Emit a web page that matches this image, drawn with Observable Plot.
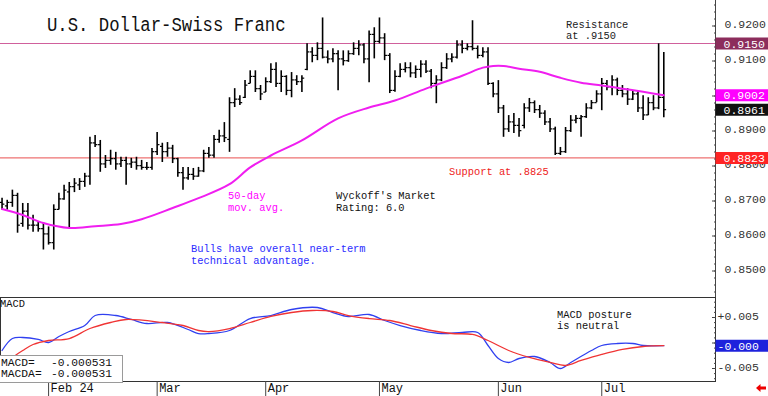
<!DOCTYPE html>
<html><head><meta charset="utf-8">
<script src="https://cdn.jsdelivr.net/npm/d3@7"></script>
<script src="https://cdn.jsdelivr.net/npm/@observablehq/plot@0.6"></script>
<style>
html,body{margin:0;padding:0;background:#fff;}
#wrap{position:relative;width:768px;height:396px;overflow:hidden;background:#fff;font-family:"Liberation Mono",monospace;}
#wrap svg.plot{position:absolute;left:0;}
.note{position:absolute;font-size:10.4px;line-height:9.5px;height:9.5px;white-space:pre;}
#title{position:absolute;left:47px;top:17px;font-size:17.3px;line-height:20px;white-space:pre;color:#111;transform:scaleY(1.2);transform-origin:0 15px;}
#mbox{position:absolute;left:-1px;top:355px;width:122px;height:26px;border:1px solid #9a9a9a;background:#fff;font-size:11.3px;color:#111;}
#mbox div{position:absolute;white-space:pre;line-height:11px;}
</style></head><body><div id="wrap"></div>
<script>
// ---- data: daily bars (index 0 = mid-January) ----
const open = [.8696,.8686,.8696,.8716,.8636,.8671,.8631,.8631,.8621,.8606,
.8581,.8676,.8706,.8726,.8741,.8746,.8756,.8771,.8866,.8861,
.8806,.8816,.8821,.8806,.8816,.8806,.8811,.8801,.8796,.8796,
.8841,.8856,.8841,.8851,.8821,.8781,.8766,.8776,.8771,.8786,
.8836,.8831,.8876,.8886,.8876,.8981,.8991,.8996,.9036,.9056,
.9021,.9011,.9041,.9076,.9036,.9056,.9016,.9046,.9041,.9076,
.9126,.9116,.9136,.9111,.9106,.9121,.9106,.9101,.9121,.9136,
.9146,.9106,.9176,.9156,.9166,.9116,.9016,.9056,.9076,.9081,
.9066,.9076,.9091,.9071,.9036,.9046,.9081,.9106,.9111,.9146,
.9136,.9141,.9136,.9116,.9126,.9036,.9006,.8966,.8906,.8926,
.8916,.8916,.8966,.8981,.8961,.8951,.8926,.8906,.8836,.8841,
.8901,.8931,.8936,.8941,.8966,.8981,.9006,.9036,.9026,.9046,
.9016,.9006,.8991,.9006,.8966,.8946,.8981,.8966,.8996];
const high = [.8708,.8702,.8731,.8722,.8693,.8693,.8659,.8640,.8637,.8626,
.8689,.8722,.8745,.8753,.8764,.8764,.8779,.8882,.8887,.8873,
.8830,.8845,.8839,.8825,.8825,.8822,.8825,.8816,.8810,.8850,
.8896,.8865,.8867,.8859,.8822,.8796,.8796,.8793,.8796,.8845,
.8853,.8887,.8902,.8924,.8995,.9021,.9001,.9044,.9072,.9072,
.9030,.9052,.9092,.9095,.9072,.9058,.9067,.9058,.9058,.9149,
.9138,.9152,.9223,.9129,.9135,.9129,.9129,.9129,.9152,.9158,
.9149,.9186,.9195,.9223,.9178,.9121,.9072,.9092,.9095,.9095,
.9086,.9101,.9101,.9076,.9058,.9095,.9121,.9121,.9158,.9158,
.9149,.9215,.9143,.9138,.9138,.9038,.9044,.8973,.8944,.8950,
.8936,.8978,.8993,.8986,.8973,.8958,.8936,.8911,.8853,.8910,
.8944,.8944,.8944,.8978,.8987,.9015,.9050,.9044,.9058,.9051,
.9030,.9021,.9015,.9015,.9001,.8995,.9001,.9149,.9124];
const low = [.8674,.8674,.8682,.8608,.8625,.8617,.8611,.8611,.8560,.8574,
.8560,.8674,.8702,.8623,.8724,.8730,.8739,.8745,.8853,.8782,
.8793,.8802,.8788,.8796,.8745,.8793,.8788,.8788,.8788,.8788,
.8830,.8810,.8825,.8807,.8768,.8731,.8759,.8759,.8768,.8781,
.8822,.8822,.8865,.8867,.8839,.8967,.8973,.8993,.9035,.9010,
.8987,.9010,.9036,.9024,.9010,.9001,.8995,.9030,.9010,.9072,
.9095,.9101,.9106,.9092,.9095,.9015,.9086,.9096,.9116,.9115,
.9092,.9038,.9106,.9149,.9101,.9007,.9011,.9052,.9066,.9052,
.9050,.9052,.9064,.9021,.8978,.9041,.9076,.9095,.9106,.9121,
.9129,.9129,.9106,.9109,.9030,.8995,.8950,.8882,.8896,.8893,
.8882,.8906,.8953,.8950,.8936,.8916,.8896,.8830,.8830,.8836,
.8896,.8921,.8882,.8936,.8961,.8981,.8958,.9015,.9001,.9001,
.8995,.8973,.8987,.8953,.8930,.8944,.8958,.8961,.8938];
const close = [.8691,.8696,.8716,.8631,.8671,.8631,.8631,.8621,.8606,.8581,
.8676,.8706,.8731,.8741,.8751,.8756,.8771,.8866,.8861,.8806,
.8816,.8821,.8806,.8816,.8806,.8811,.8801,.8796,.8796,.8841,
.8861,.8841,.8851,.8821,.8781,.8766,.8776,.8771,.8786,.8836,
.8831,.8876,.8886,.8881,.8981,.8991,.8981,.9031,.9056,.9021,
.9006,.9041,.9076,.9036,.9056,.9016,.9046,.9041,.9051,.9126,
.9116,.9136,.9111,.9106,.9121,.9106,.9101,.9121,.9136,.9146,
.9106,.9176,.9156,.9166,.9116,.9016,.9056,.9076,.9081,.9066,
.9076,.9091,.9071,.9036,.9046,.9081,.9106,.9111,.9146,.9136,
.9141,.9136,.9116,.9126,.9036,.9006,.8966,.8906,.8926,.8916,
.8901,.8966,.8981,.8961,.8951,.8926,.8906,.8836,.8841,.8901,
.8931,.8936,.8941,.8966,.8981,.9006,.9036,.9026,.9046,.9016,
.9006,.8991,.9006,.8966,.8946,.8981,.8966,.8996,.8961];

// 50-day moving average, read at sample bars
const maIdx = [0,4,8,13,18,23,27,33,38,44,48,52,58,65,71,76,82,89,93,95,97,100,104,108,112,116,120,124,128];
const maVal = [.8677,.8660,.8637,.8623,.8628,.8634,.8648,.8680,.8708,.8748,.8796,.8830,.8873,.8936,.8967,.8987,.9021,.9058,.9081,.9086,.9086,.9078,.9069,.9052,.9038,.9030,.9021,.9012,.9002];

// MACD (blue) and MACDA signal (red), read at sample bars
const macdIdx = [0,2,4,7,9,11,13,16,18,22,25,28,32,36,38,40,44,48,52,56,61,64,67,71,74,77,81,85,89,92,94,96,98,100,103,106,108,110,114,116,119,122,124,128];
const macdVal = [-.00147,.00088,.00108,.00069,.00010,.00127,.00225,.00343,.00539,.00539,.00461,.00382,.00402,.00265,.00186,.00186,.00245,.00480,.00539,.00657,.00696,.00598,.00520,.00559,.00441,.00343,.00245,.00186,.00206,.00206,-.00049,-.00304,-.00382,-.00304,-.00265,-.00382,-.00500,-.00382,-.00147,-.00049,-.00010,-.00010,-.00049,-.00053];
const macdaIdx = [2,4,6,9,13,17,21,24,31,35,38,40,44,48,52,56,60,64,67,71,75,79,83,87,91,94,98,102,106,109,112,116,120,124,128];
const macdaVal = [-.00284,-.00147,-.00029,.00049,.00088,.00284,.00402,.00461,.00402,.00343,.00245,.00225,.00284,.00402,.00520,.00598,.00637,.00618,.00539,.00480,.00441,.00343,.00245,.00186,.00167,.00049,-.00147,-.00284,-.00382,-.00441,-.00343,-.00225,-.00127,-.00069,-.00053];

const monthIdx = [9,30,51,73,96,116];
const monthLabels = ["Feb 24","Mar","Apr","May","Jun","Jul"];

const priceTicks = [0.85,0.86,0.87,0.88,0.89,0.90,0.91,0.92];
const levelVals = [0.9150, 0.9002, 0.8961, 0.8823];
const levelLabels = ["0.9150","0.9002","0.8961","0.8823"];
const levelColors = ["#8c2d5c","#ff00ff","#111111","#ff2424"];
const macdTickVals = [0.005, -0.005];
const macdTickLabels = ["+0.005","-0.005"];
const macdLabelVal = -0.000531;
const macdLabelText = "-0.000";
const macdReadout = ["-0.000531","-0.000531"];

// ---- drawing ----
const FONT = "Liberation Mono, monospace";
const xDomain = [-0.3, 138];
const bars = open.map((o,i)=>({i, open:o, high:high[i], low:low[i], close:close[i]}));
const ma = maIdx.map((i,k)=>({i, v:maVal[k]}));
const macd = macdIdx.map((i,k)=>({i, v:macdVal[k]}));
const macda = macdaIdx.map((i,k)=>({i, v:macdaVal[k]}));
const priceMinor = d3.range(0.844, 0.9265, 0.002);
const macdMinor = d3.range(-0.007, 0.0085, 0.001);
const boxSym = {draw(ctx){ ctx.rect(0, -6, 53, 12); }};

function levelBox(v, label, color){
  return [
    Plot.dot([v], {y:d=>d, frameAnchor:"right", symbol:boxSym, fill:color, stroke:"none"}),
    Plot.text([v], {y:d=>d, text:()=>label, frameAnchor:"right", dx:8, dy:0.5, textAnchor:"start", fill:"#fff", fontSize:11.5, fontFamily:FONT})
  ];
}

const price = Plot.plot({
  width:768, height:297, marginLeft:0, marginRight:53, marginTop:0, marginBottom:0,
  style:{fontFamily:FONT, fontSize:"11.5px", background:"transparent", overflow:"visible"},
  x:{domain:xDomain, axis:null, label:null},
  y:{domain:[0.842429, 0.927286], axis:null, label:null},
  marks:[
    Plot.ruleY([levelVals[0]], {stroke:"#d0609c", strokeWidth:1.2}),
    Plot.ruleY([levelVals[3]], {stroke:"#ee7272", strokeWidth:1.2}),
    Plot.ruleX(bars, {x:"i", y1:"low", y2:"high", stroke:"#000", strokeWidth:1.6}),
    Plot.link(bars, {x1:d=>d.i-0.45, x2:"i", y1:"open", y2:"open", stroke:"#000", strokeWidth:1.2}),
    Plot.link(bars, {x1:"i", x2:d=>d.i+0.45, y1:"close", y2:"close", stroke:"#000", strokeWidth:1.2}),
    Plot.line(ma, {x:"i", y:"v", stroke:"#f01ef0", strokeWidth:2, curve:"catmull-rom"}),
    Plot.ruleX([xDomain[1]], {stroke:"#444"}),
    Plot.axisY(priceMinor, {anchor:"right", tickSize:2, dx:-2, tickFormat:()=>"", stroke:"#444", label:null}),
    Plot.axisY(priceTicks, {anchor:"right", tickSize:4, dx:-4, tickFormat:()=>"", stroke:"#444", label:null}),
    Plot.text(priceTicks, {y:d=>d, text:d=>d.toFixed(4), frameAnchor:"right", dx:9, dy:-1.5, textAnchor:"start", fill:"#333", fontSize:11.5, fontFamily:FONT}),
    ...levelVals.flatMap((v,k)=>levelBox(v, levelLabels[k], levelColors[k]))
  ]
});

const macdPlot = Plot.plot({
  width:768, height:100, marginLeft:0, marginRight:53, marginTop:1, marginBottom:15,
  style:{fontFamily:FONT, fontSize:"11.5px", background:"transparent", overflow:"visible"},
  x:{domain:xDomain, axis:null, label:null},
  y:{domain:[-0.007549, 0.008922], axis:null, label:null},
  marks:[
    Plot.frame({stroke:"#333"}),
    Plot.axisY(macdMinor, {anchor:"right", tickSize:2, dx:-2, tickFormat:()=>"", stroke:"#444", label:null}),
    Plot.axisY(macdTickVals.concat([0]), {anchor:"right", tickSize:4, dx:-4, tickFormat:()=>"", stroke:"#444", label:null}),
    Plot.text(macdTickVals, {y:d=>d, text:(d,i)=>macdTickLabels[i], frameAnchor:"right", dx:2, dy:-1, textAnchor:"start", fill:"#333", fontSize:11.5, fontFamily:FONT}),
    Plot.line(macd, {x:"i", y:"v", stroke:"#3040f0", strokeWidth:1.3, curve:"catmull-rom"}),
    Plot.line(macda, {x:"i", y:"v", stroke:"#f03434", strokeWidth:1.3, curve:"catmull-rom"}),
    Plot.dot([macdLabelVal], {y:d=>d, frameAnchor:"right", symbol:boxSym, fill:"#1e22dc", stroke:"none"}),
    Plot.text([macdLabelVal], {y:d=>d, text:()=>macdLabelText, frameAnchor:"right", dx:2, dy:0.5, textAnchor:"start", fill:"#fff", fontSize:11.5, fontFamily:FONT}),
    Plot.axisX(monthIdx, {anchor:"bottom", tickSize:15, tickFormat:()=>"", stroke:"#444", label:null}),
    Plot.text(monthIdx, {x:d=>d, text:(d,i)=>monthLabels[i], frameAnchor:"bottom", lineAnchor:"top", textAnchor:"start", dx:2, dy:2, fill:"#111", fontSize:12, fontFamily:FONT})
  ]
});

const wrap = document.getElementById("wrap");
price.classList.add("plot"); macdPlot.classList.add("plot");
price.style.top = "0px"; macdPlot.style.top = "296px";
wrap.appendChild(price); wrap.appendChild(macdPlot);

function note(text, x, capTop, color){
  const d = document.createElement("div");
  d.className = "note"; d.textContent = text;
  d.style.left = x + "px"; d.style.top = (capTop - 1) + "px"; d.style.color = color;
  wrap.appendChild(d);
}
const t = document.createElement("div"); t.id = "title"; t.textContent = "U.S. Dollar-Swiss Franc"; wrap.appendChild(t);
note("Resistance", 566, 22, "#222");
note("at .9150", 566, 32.5, "#222");
note("Support at .8825", 449, 169, "#ee1c1c");
note("50-day", 228, 193, "#ff00ff");
note("mov. avg.", 228, 205, "#ff00ff");
note("Wyckoff's Market", 336, 193, "#111");
note("Rating: 6.0", 336, 205, "#111");
note("Bulls have overall near-term", 191, 246, "#2b2bff");
note("technical advantage.", 191, 258, "#2b2bff");
note("MACD posture", 557, 312, "#111");
note("is neutral", 557, 322.5, "#111");
note("MACD", 0, 301, "#111");

const mb = document.createElement("div"); mb.id = "mbox";
mb.innerHTML = '<div style="left:1px;top:2px">MACD=</div><div style="left:51px;top:2px">'+macdReadout[0]+'</div>'+
  '<div style="left:1px;top:13px">MACDA=</div><div style="left:51px;top:13px">'+macdReadout[1]+'</div>';
wrap.appendChild(mb);

const arrow = document.createElementNS("http://www.w3.org/2000/svg","svg");
arrow.setAttribute("width","11"); arrow.setAttribute("height","8");
arrow.style.cssText = "position:absolute;left:756px;top:384px";
arrow.innerHTML = '<path d="M0 4 L4.5 0 L4.5 2.5 L10 2.5 L10 5.5 L4.5 5.5 L4.5 8 Z" fill="#e00"/>';
wrap.appendChild(arrow);
</script></body></html>
